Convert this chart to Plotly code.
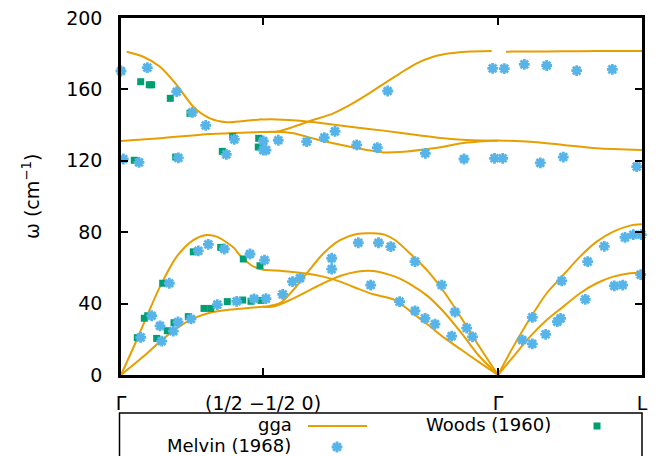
import plotly.graph_objects as go

# ---- path coordinate (arbitrary units) and tick labels ----
tick_q = [0, 142, 377, 521]
tick_labels = ['Γ', '(1/2 −1/2 0)', 'Γ', 'L']
y_ticks = [0, 40, 80, 120, 160, 200]

# ---- gga branches: segment Γ -> (1/2 -1/2 0) ----
s1_q_ta = [0, 22.3, 39, 55.7, 72.3, 89, 105.7, 122.3, 142]
s1_w_ta = [0, 10.3, 18.7, 26.1, 31.7, 34.9, 36.4, 37.3, 38.3]
s1_q_la = [0, 15.7, 25.7, 39, 55.7, 72.3, 85.7, 95.7, 112.3, 119, 125.7, 132.3, 142]
s1_w_la = [0, 19.6, 32.7, 49.5, 66.3, 75.6, 78.4, 77.5, 71.5, 67, 63.5, 60.8, 59]
s1_q_o1 = [5.7, 22.3, 39, 55.7, 72.3, 89, 105.7, 122.3, 139, 142]
s1_w_o1 = [181.1, 178.3, 172.7, 162.5, 150.3, 143.8, 141.6, 142.3, 143.2, 143.2]
s1_q_o2 = [0, 39, 89, 139, 142]
s1_w_o2 = [131.1, 132.6, 135, 136.1, 136.2]

# ---- segment (1/2 -1/2 0) -> Γ ----
s2_q_om = [142, 155.7, 179, 195.7, 229, 262.3, 295.7, 322.3, 345.7, 377]
s2_w_om = [143.2, 143.2, 142.5, 141.4, 139.1, 136.9, 134.5, 132.6, 131.7, 131.3]
s2_q_or = [142, 155.7, 172.3, 189, 212.3, 229, 245.7, 262.3, 279, 295.7, 312.3, 329, 345.7, 370.7]
s2_w_or = [136.2, 136.3, 139, 142.3, 146.6, 151.3, 156.9, 163, 169, 174.6, 178.3, 180.2, 181.1, 181.5]
s2_q_ol = [142, 155.7, 172.3, 189, 212.3, 245.7, 262.3, 279, 312.3, 345.7, 377]
s2_w_ol = [136.2, 136.3, 135.4, 133, 129.8, 126.1, 124.7, 124.9, 127, 130.2, 131.4]
s2_q_a = [142, 145.7, 169, 185.7, 202.3, 219, 235.7, 252.3, 274, 290.7, 307.3, 324, 340.7, 357.3, 377]
s2_w_a = [59, 58.8, 57.9, 56.9, 55.1, 52.3, 48.6, 45.2, 42, 35.1, 28, 20.5, 14, 7.5, 0]
s2_q_b1 = [142, 145.7, 159, 172.3, 185.7, 202.3, 219, 235.7, 252.3, 264, 274, 290.7, 307.3, 324, 340.7, 357.3, 377]
s2_w_b1 = [38.3, 38.4, 40.2, 47.6, 56.9, 68.1, 75.6, 79, 79.4, 78.5, 75.6, 67.2, 57.9, 45.8, 31.7, 16.8, 0]
s2_q_b2 = [142, 152.3, 169, 185.7, 202.3, 219, 235.7, 252.3, 274, 290.7, 307.3, 324, 340.7, 357.3, 377]
s2_w_b2 = [38.3, 38.3, 42, 46.7, 51.4, 55.5, 57.9, 58.3, 55.1, 50.4, 43.9, 34.6, 23.3, 11.2, 0]

# ---- segment Γ -> L ----
s3_q_ot = [385, 392.3, 425.7, 459, 492.3, 521]
s3_w_ot = [181.1, 181.2, 181.3, 181.4, 181.5, 181.5]
s3_q_ob = [377, 409, 442.3, 475.7, 521]
s3_w_ob = [131.4, 130.7, 128.9, 127, 126]
s3_q_ac = [377, 392.3, 409, 425.7, 442.3, 459, 475.7, 492.3, 509, 521]
s3_w_la = [0, 15.9, 31.7, 45.8, 56, 66.3, 74.7, 80.3, 83.7, 84.4]
s3_w_ta = [0, 10.3, 21.5, 30.8, 38.3, 45.8, 51.4, 55.1, 57, 57.3]

# ---- Woods (1960) ----
woods_q = [19.7, 28.3, 30.7, 49.3, 69, 111.7, 137.7, 137.3, 101.3, 54.7, 13.3,
           16.3, 23.3, 26.7, 41.7, 35.7, 46.3, 53, 67.3, 72.3, 83, 89.7, 99.7,
           106.3, 122.3, 121.7, 130, 139, 140]
woods_w = [164.3, 162.6, 162.6, 155, 146.6, 133.7, 132.6, 127.7, 125.3, 122.1, 120.3,
           20.9, 31.8, 33.2, 51.4, 20.5, 24.8, 29.3, 32.7, 69, 37.3, 37.3, 71.5,
           41.1, 65, 42, 41.3, 61.2, 41.8]

# ---- Melvin (1968) ----
melvin_q = [0, 2.3, 26.3, 55.7, 71.3, 84.7, 113.3, 142.3, 157.3, 185.7, 18, 57.3, 105.3, 142.3, 145,
            203.3, 214, 235.7, 256.3, 266.7, 304.3, 343, 371.7, 373.5, 381.7, 383.3, 403.3, 425.7,
            455.7, 491.3, 522, 419.3, 442.3, 515.7,
            19.7, 30.7, 48.3, 39, 40.7, 52.3, 57, 70, 77.3, 87.3, 96.3, 103.3, 115.7, 129, 133, 143.5, 145,
            161.7, 171.5, 179, 210.7, 210.7, 237.3, 249.7, 257.5, 269.8, 278.6, 294, 294, 304, 314,
            320.7, 330.7, 334, 345.7, 351.5,
            401.3, 411.3, 411.3, 424.7, 436.3, 439.7, 440.7, 464.3, 466.7, 483.3, 493.3, 501.7, 504,
            512.3, 520.3, 519.7]
melvin_w = [170.3, 121, 172.2, 158.7, 147.1, 139.8, 132, 131.1, 131.5, 130.7, 119.1, 121.6, 123.6, 126, 126,
            133, 136.5, 128.9, 127.4, 159.1, 124.2, 121, 171.8, 121.4, 121.4, 171.6, 174, 173.4,
            170.5, 171.2, 172.5, 118.8, 122.1, 116.7,
            21.1, 33.2, 51.4, 27.5, 19, 24.6, 29.7, 31.4, 69.5, 73.2, 39.4, 70.6, 41.3, 67.8, 42.7, 64.4, 42.8,
            45.2, 52.3, 54.3, 65.4, 59.3, 74.1, 50.4, 74.1, 71.9, 41.1, 63.5, 35.9, 31.7, 28.5,
            50.4, 21.8, 35.3, 26.3, 21.4,
            19.6, 32.3, 17.4, 22.8, 29.9, 31.7, 52.7, 42.4, 63.5, 72.1, 49.9, 50.4, 77.1,
            78.6, 78.6, 56.2]

legend_names = ['gga', 'Woods (1960)', 'Melvin (1968)']

ORANGE = '#E69F00'
GREEN = '#009E73'
BLUE = '#56B4E9'
FONT = 'DejaVu Sans'
FS = 19
LFS = 18

branches = [
    (s1_q_ta, s1_w_ta), (s1_q_la, s1_w_la), (s1_q_o1, s1_w_o1), (s1_q_o2, s1_w_o2),
    (s2_q_om, s2_w_om), (s2_q_or, s2_w_or), (s2_q_ol, s2_w_ol),
    (s2_q_a, s2_w_a), (s2_q_b1, s2_w_b1), (s2_q_b2, s2_w_b2),
    (s3_q_ot, s3_w_ot), (s3_q_ob, s3_w_ob), (s3_q_ac, s3_w_la), (s3_q_ac, s3_w_ta),
]

fig = go.Figure()
for q, w in branches:
    fig.add_trace(go.Scatter(x=q, y=w, mode='lines', name=legend_names[0],
                             legendgroup='gga', showlegend=False,
                             line=dict(color=ORANGE, width=2, shape='spline', smoothing=0.8),
                             hoverinfo='skip'))

melvin_marker = dict(symbol='asterisk', size=9, color=BLUE, line=dict(color=BLUE, width=2.8))
woods_marker = dict(symbol='square', size=7, color=GREEN, line=dict(width=0))

fig.add_trace(go.Scatter(x=woods_q, y=woods_w, mode='markers', name=legend_names[1],
                         showlegend=False, cliponaxis=False, marker=woods_marker))
fig.add_trace(go.Scatter(x=melvin_q, y=melvin_w, mode='markers', name=legend_names[2],
                         showlegend=False, cliponaxis=False, marker=melvin_marker))

# legend samples (drawn on a hidden helper axis below the plot)
fig.add_trace(go.Scatter(x=[476], y=[30], mode='markers', xaxis='x2', yaxis='y2',
                         showlegend=False, cliponaxis=False, hoverinfo='skip',
                         marker=woods_marker))
fig.add_trace(go.Scatter(x=[216], y=[9], mode='markers', xaxis='x2', yaxis='y2',
                         showlegend=False, cliponaxis=False, hoverinfo='skip',
                         marker=melvin_marker))

axis_common = dict(showline=True, linewidth=2.5, linecolor='black', mirror='ticks',
                   ticks='inside', ticklen=7, tickwidth=1.5, tickcolor='black',
                   showgrid=False, zeroline=False, automargin=False,
                   tickfont=dict(family=FONT, size=FS, color='black'))

H, PT = 456, 18
paper_h = H - PT

def py(pix):
    return (H - pix) / paper_h

def px(pix):
    return (pix - 121) / 521

fig.update_layout(
    width=664, height=456,
    margin=dict(l=121, r=22, t=PT, b=0, pad=0, autoexpand=False),
    paper_bgcolor='white', plot_bgcolor='white',
    font=dict(family=FONT, size=FS, color='black'),
    showlegend=False,
    xaxis=dict(range=[0, 521], domain=[0, 1], tickvals=tick_q, ticktext=tick_labels,
               ticklabelstandoff=9, anchor='y', **axis_common),
    yaxis=dict(range=[0, 200], domain=[py(375), 1], tickvals=y_ticks,
               ticklabelstandoff=12, anchor='x', **axis_common),
    xaxis2=dict(domain=[0, 1], range=[0, 521], visible=False, anchor='y2', automargin=False),
    yaxis2=dict(domain=[0, py(415)], range=[0, 41], visible=False, anchor='x2', automargin=False),
    annotations=[
        dict(text='ω (cm<sup>−1</sup>)', xref='paper', yref='paper', x=px(31), y=py(197),
             textangle=-90, showarrow=False, xanchor='center', yanchor='middle',
             font=dict(family=FONT, size=FS)),
        dict(text=legend_names[0], xref='paper', yref='paper', x=px(294), y=py(424.5),
             showarrow=False, xanchor='right', yanchor='middle', font=dict(family=FONT, size=LFS)),
        dict(text=legend_names[1], xref='paper', yref='paper', x=px(553), y=py(424.5),
             showarrow=False, xanchor='right', yanchor='middle', font=dict(family=FONT, size=LFS)),
        dict(text=legend_names[2], xref='paper', yref='paper', x=px(293), y=py(445.5),
             showarrow=False, xanchor='right', yanchor='middle', font=dict(family=FONT, size=LFS)),
    ],
    shapes=[
        dict(type='rect', xref='paper', yref='paper', x0=px(119.5), x1=px(642), y0=-0.1, y1=py(413),
             line=dict(color='black', width=1.5), fillcolor='rgba(0,0,0,0)'),
        dict(type='line', xref='paper', yref='paper', x0=px(308), x1=px(367), y0=py(426), y1=py(426),
             line=dict(color=ORANGE, width=2)),
    ],
)

fig.write_html('out.html')
